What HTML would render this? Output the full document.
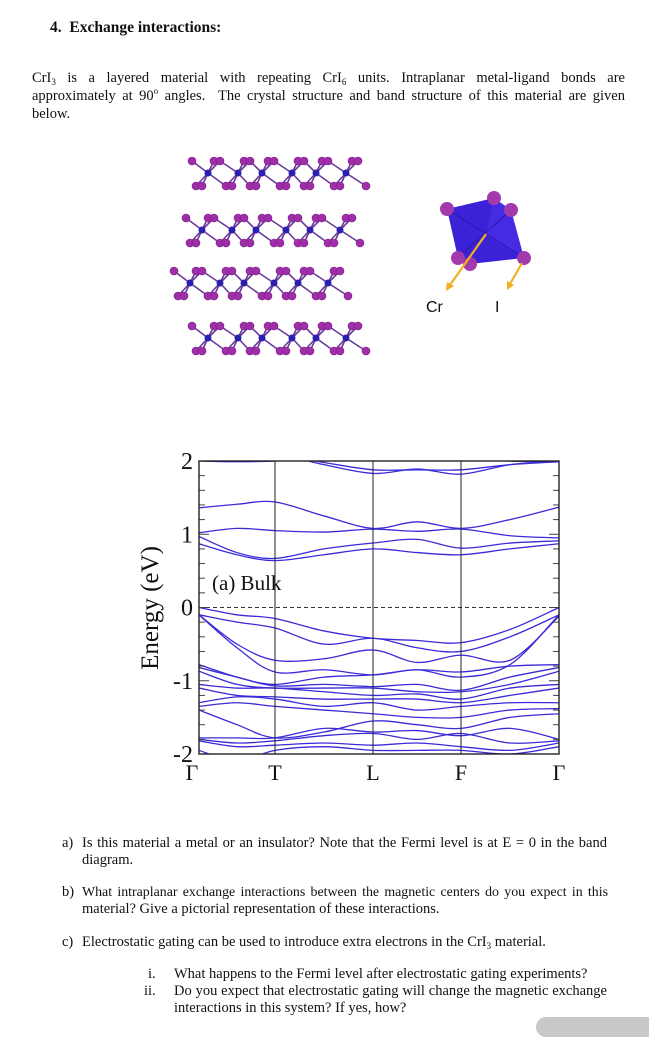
<!DOCTYPE html>
<html><head><meta charset="utf-8">
<style>
html,body{margin:0;padding:0;background:#fff;}
body{width:649px;height:1024px;position:relative;overflow:hidden;font-family:"Liberation Serif",serif;color:#111;}
.t{position:absolute;font-size:14.5px;line-height:17px;white-space:nowrap;}
.j{text-align:justify;text-align-last:justify;white-space:normal;}
.sb{font-size:9px;line-height:0;position:relative;top:3px;}
.sp{font-size:9px;line-height:0;position:relative;top:-6px;}
</style></head><body>
<div class="t" style="left:50px;top:19px;font-weight:bold;font-size:15.5px;">4.&nbsp;&nbsp;Exchange interactions:</div>
<div class="t j" style="left:32px;top:70px;width:593px;">CrI<span class="sb">3</span> is a layered material with repeating CrI<span class="sb">6</span> units. Intraplanar metal-ligand bonds are</div>
<div class="t j" style="left:32px;top:88px;width:593px;">approximately at 90<span class="sp">o</span> angles.&nbsp; The crystal structure and band structure of this material are given</div>
<div class="t" style="left:32px;top:106px;">below.</div>

<svg id="crys" style="position:absolute;left:0;top:0" width="649" height="380"></svg>

<svg id="band" style="position:absolute;left:0;top:0" width="649" height="800"></svg>

<div class="t" style="left:62px;top:835px;">a)</div>
<div class="t j" style="left:82px;top:835px;width:525px;">Is this material a metal or an insulator? Note that the Fermi level is at E = 0 in the band</div>
<div class="t" style="left:82px;top:852px;">diagram.</div>
<div class="t" style="left:62px;top:884px;">b)</div>
<div class="t j" style="left:82px;top:884px;width:526px;font-size:13.9px;">What intraplanar exchange interactions between the magnetic centers do you expect in this</div>
<div class="t" style="left:82px;top:901px;">material? Give a pictorial representation of these interactions.</div>
<div class="t" style="left:62px;top:934px;">c)</div>
<div class="t" style="left:82px;top:934px;">Electrostatic gating can be used to introduce extra electrons in the CrI<span class="sb">3</span> material.</div>
<div class="t" style="left:148px;top:966px;">i.</div>
<div class="t" style="left:174px;top:966px;">What happens to the Fermi level after electrostatic gating experiments?</div>
<div class="t" style="left:144px;top:983px;">ii.</div>
<div class="t j" style="left:174px;top:983px;width:433px;">Do you expect that electrostatic gating will change the magnetic exchange</div>
<div class="t" style="left:174px;top:1000px;">interactions in this system? If yes, how?</div>
<div style="position:absolute;left:536px;top:1017px;width:130px;height:20px;border-radius:10px;background:#c8c8c8;"></div>

<script>
const NS="http://www.w3.org/2000/svg";
function mk(p,tag,at){const e=document.createElementNS(NS,tag);for(const k in at)e.setAttribute(k,at[k]);p.appendChild(e);return e;}

// ---------- crystal structure ----------
const crys=document.getElementById('crys');
const rowStarts=[208,202,190,208];
const rowYs=[173,230,283,338];
const crGaps=[0,30,54,84,108,138];
rowYs.forEach((cy,r)=>{
  const g=mk(crys,'g',{});
  
  
  const x0=rowStarts[r];
  const crs=crGaps.map(d=>x0+d);
  const tops=[],bots=[];
  tops.push(x0-16);
  crs.forEach(cx=>{tops.push(cx+6,cx+12);bots.push(cx-12,cx-6);});
  bots.push(crs[crs.length-1]+20);
  crs.forEach((cx,i)=>{
    [[cx-16,cx+6,cx+12].filter((v,k)=>k>0||i==0).concat(i>0?[crs[i-1]+12]:[])].flat().forEach(tx=>mk(g,'line',{x1:cx,y1:cy,x2:tx,y2:cy-12,stroke:'#6a3a9a','stroke-width':1.6}));
    [cx-12,cx-6].concat(i<crs.length-1?[crs[i+1]-12]:[cx+20]).forEach(bx=>mk(g,'line',{x1:cx,y1:cy,x2:bx,y2:cy+13,stroke:'#6a3a9a','stroke-width':1.6}));
  });
  tops.forEach(tx=>mk(g,'circle',{cx:tx,cy:cy-12,r:4,fill:'#a02ea8',stroke:'#7a1f86','stroke-width':0.6}));
  bots.forEach(bx=>mk(g,'circle',{cx:bx,cy:cy+13,r:4,fill:'#a02ea8',stroke:'#7a1f86','stroke-width':0.6}));
  crs.forEach(cx=>mk(g,'circle',{cx:cx,cy:cy,r:3.5,fill:'#2a1fb0'}));
});
// octahedron
const oct=mk(crys,'g',{});


mk(oct,'polygon',{points:'447,209 494,198 511,210 524,258 470,264 458,258',fill:'#3b22d6'});
mk(oct,'polygon',{points:'494,198 511,210 524,258 486,236',fill:'#4a30e8',opacity:0.7});
mk(oct,'line',{x1:447,y1:209,x2:524,y2:258,stroke:'#2a17a8','stroke-width':1});
mk(oct,'line',{x1:511,y1:210,x2:458,y2:258,stroke:'#2a17a8','stroke-width':1});
[[494,198],[447,209],[511,210],[458,258],[470,264],[524,258]].forEach(p=>mk(oct,'circle',{cx:p[0],cy:p[1],r:7,fill:'#a23aae'}));
mk(oct,'line',{x1:486,y1:234,x2:450,y2:285,stroke:'#f0b020','stroke-width':2.2});
mk(oct,'polygon',{points:'446,291 447,282 454,286',fill:'#f0b020'});
mk(oct,'line',{x1:522,y1:263,x2:510,y2:284,stroke:'#f0b020','stroke-width':2.2});
mk(oct,'polygon',{points:'507,290 507,281 514,285',fill:'#f0b020'});
let tl=mk(oct,'text',{x:426,y:312,'font-family':'Liberation Sans, sans-serif','font-size':16,fill:'#111'});tl.textContent='Cr';

tl=mk(oct,'text',{x:495,y:312,'font-family':'Liberation Sans, sans-serif','font-size':16,fill:'#111'});tl.textContent='I';


// ---------- band structure ----------
const kLabels=['Γ','T','L','F','Γ'];
const kNodes=[0,1,2,3,4];
const yTicks=[2,1,0,-1,-2];
const yTickLabels=['2','1','0','-1','-2'];
const kGrid=[0,0.5,1,1.5,2,2.5,3,3.5,4];
const band1=[2.00,1.99,2.00,2.05,2.10,2.10,2.10,2.00,2.00];
const band2=[2.10,2.10,2.10,1.95,1.83,1.89,1.82,1.95,2.00];
const band3=[2.10,2.10,2.10,1.98,1.88,1.88,1.88,1.95,1.99];
const band4=[1.36,1.41,1.44,1.25,1.08,1.17,1.08,1.20,1.37];
const band5=[1.02,1.08,1.05,1.03,1.07,1.04,1.07,0.98,0.95];
const band6=[0.97,0.75,0.67,0.80,0.88,0.93,0.81,0.88,0.91];
const band7=[0.87,0.72,0.64,0.72,0.80,0.75,0.72,0.80,0.87];
const band8=[0.00,-0.10,-0.15,-0.32,-0.42,-0.45,-0.48,-0.30,0.00];
const band9=[-0.10,-0.20,-0.28,-0.50,-0.42,-0.55,-0.60,-0.40,-0.10];
const band10=[-0.10,-0.50,-0.72,-0.70,-0.58,-0.75,-0.65,-0.72,-0.12];
const band11=[-0.10,-0.55,-0.88,-0.85,-0.92,-0.85,-0.95,-0.78,-0.10];
const band12=[-0.78,-0.95,-1.05,-0.95,-0.92,-0.85,-0.88,-0.80,-0.78];
const band13=[-0.82,-0.95,-1.07,-1.05,-1.08,-1.05,-1.13,-0.95,-0.82];
const band14=[-0.87,-1.05,-1.10,-1.10,-1.10,-1.15,-1.15,-1.05,-0.87];
const band15=[-1.05,-1.10,-1.10,-1.15,-1.20,-1.18,-1.25,-1.10,-1.05];
const band16=[-1.10,-1.20,-1.22,-1.25,-1.25,-1.25,-1.30,-1.20,-1.10];
const band17=[-1.30,-1.22,-1.25,-1.35,-1.30,-1.40,-1.35,-1.30,-1.30];
const band18=[-1.35,-1.30,-1.35,-1.40,-1.45,-1.50,-1.50,-1.40,-1.38];
const band19=[-1.40,-1.60,-1.78,-1.70,-1.55,-1.60,-1.65,-1.50,-1.45];
const band20=[-1.78,-1.78,-1.78,-1.65,-1.70,-1.68,-1.75,-1.65,-1.80];
const band21=[-1.80,-1.85,-1.82,-1.75,-1.72,-1.80,-1.72,-1.85,-1.82];
const band22=[-1.82,-1.90,-1.88,-1.85,-1.88,-1.85,-1.90,-1.95,-1.85];
const band23=[-1.95,-2.10,-1.95,-1.90,-1.95,-1.95,-1.95,-2.00,-1.90];
const bands=[band1,band2,band3,band4,band5,band6,band7,band8,band9,band10,band11,band12,band13,band14,band15,band16,band17,band18,band19,band20,band21,band22,band23];

const svg=document.getElementById('band');
const L=199,R=559,T=461,B=754;
const nodeX=[199,275,373,461,559];
function xk(k){const i=Math.min(3,Math.floor(k));return nodeX[i]+(k-i)*(nodeX[i+1]-nodeX[i]);}
function ye(e){return T+(2-e)/4*(B-T);}
mk(svg,'defs',{}).innerHTML='<clipPath id="pc"><rect x="'+L+'" y="'+T+'" width="'+(R-L)+'" height="'+(B-T)+'"/></clipPath>';
const bg=mk(svg,'g',{'clip-path':'url(#pc)'});
bands.forEach((b,bi)=>{
  const pts=kGrid.map((k,i)=>[xk(k),ye(b[i])]);
  let d='M'+pts[0][0]+','+pts[0][1];
  for(let i=0;i<pts.length-1;i++){
    const p0=pts[Math.max(0,i-1)],p1=pts[i],p2=pts[i+1],p3=pts[Math.min(pts.length-1,i+2)];
    d+=' C'+(p1[0]+(p2[0]-p0[0])/6)+','+(p1[1]+(p2[1]-p0[1])/6)+' '+(p2[0]-(p3[0]-p1[0])/6)+','+(p2[1]-(p3[1]-p1[1])/6)+' '+p2[0]+','+p2[1];
  }
  const p=mk(bg,'path',{d:d,fill:'none',stroke:'#3a2ad8','stroke-width':1.3});
  
  
});
const fl=mk(svg,'line',{x1:L,x2:R,y1:ye(0),y2:ye(0),stroke:'#333','stroke-width':1,'stroke-dasharray':'4,3'});

kNodes.forEach((k,i)=>{
  if(i>0&&i<4){const v=mk(svg,'line',{x1:xk(k),x2:xk(k),y1:T,y2:B,stroke:'#222','stroke-width':1});
    }
  const t=mk(svg,'text',{x:xk(k)+(i==0?-7:0),y:B+26,'text-anchor':'middle','font-family':'Liberation Serif, serif','font-size':22,fill:'#111'});
  t.textContent=kLabels[i];
  
});
for(let e=-2;e<=2.001;e+=0.2){
  const major=Math.abs(e-Math.round(e))<0.01, len=major?10:6;
  mk(svg,'line',{x1:L,x2:L+len,y1:ye(e),y2:ye(e),stroke:'#444','stroke-width':1});
  mk(svg,'line',{x1:R,x2:R-len,y1:ye(e),y2:ye(e),stroke:'#444','stroke-width':1});
}
yTicks.forEach((v,i)=>{
  const t=mk(svg,'text',{x:L-6,y:ye(v)+8,'text-anchor':'end','font-family':'Liberation Serif, serif','font-size':24,fill:'#111'});
  t.textContent=yTickLabels[i];
  
});
const fr=mk(svg,'rect',{x:L,y:T,width:R-L,height:B-T,fill:'none',stroke:'#222','stroke-width':1.4});

const yt=mk(svg,'text',{x:0,y:0,transform:'translate(158,608) rotate(-90)','text-anchor':'middle','font-family':'Liberation Serif, serif','font-size':25,fill:'#111'});
yt.textContent='Energy (eV)';

const pl=mk(svg,'text',{x:212,y:590,'font-family':'Liberation Serif, serif','font-size':21,fill:'#111'});
pl.textContent='(a) Bulk';

</script>
</body></html>
